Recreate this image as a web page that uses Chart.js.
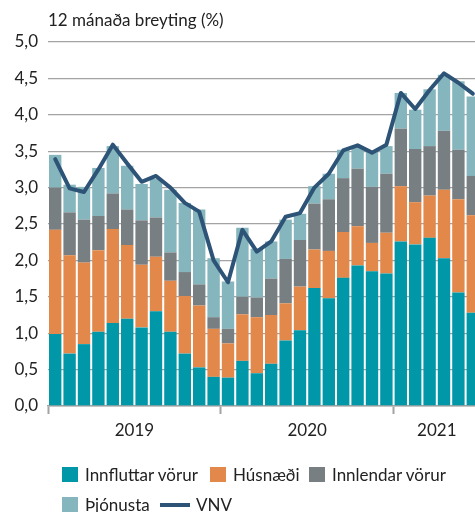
<!DOCTYPE html>
<html><head><meta charset="utf-8">
<script src="https://cdn.jsdelivr.net/npm/chart.js@4"></script>
<style>
html,body{margin:0;padding:0;overflow:hidden;background:#fff;width:475px;height:512px}
#wrap{position:relative;width:486px;height:512px}
#c{position:absolute;left:0;top:0}
.ttl{position:absolute;left:48px;top:10px;font:17px Lato;line-height:20px;color:#222;white-space:nowrap}
.lg{position:absolute;font:17px Lato;color:#222;white-space:nowrap;display:flex;align-items:center;height:15px}
.lg .bx{display:inline-block;width:16px;height:15px;margin-right:7px}
.lg .ln{display:inline-block;width:30px;height:4px;margin-right:6px}
</style></head>
<body><div id="wrap"><canvas id="c" width="486" height="512"></canvas>
<div class="ttl" id="ttl"></div><div id="legend"></div></div>
<script>
const yAxisTitle = '12 mánaða breyting (%)';
const years = ['2019','2019','2019','2019','2019','2019','2019','2019','2019','2019','2019','2019',
               '2020','2020','2020','2020','2020','2020','2020','2020','2020','2020','2020','2020',
               '2021','2021','2021','2021','2021','2021'];
const monthNames = ['jan','feb','mar','apr','maí','jún','júl','ágú','sep','okt','nóv','des',
                    'jan','feb','mar','apr','maí','jún','júl','ágú','sep','okt','nóv','des',
                    'jan','feb','mar','apr','maí','jún'];
const categories = monthNames.map((m, i) => m + ' ' + years[i]);

const innfluttar = [0.99,0.72,0.85,1.02,1.14,1.20,1.08,1.30,1.02,0.72,0.53,0.40,
                    0.39,0.62,0.45,0.58,0.90,1.04,1.62,1.48,1.76,1.93,1.85,1.82,
                    2.26,2.22,2.31,2.03,1.56,1.28];
const husnaedi   = [1.43,1.35,1.12,1.12,1.29,1.01,0.86,0.75,0.70,0.79,0.85,0.66,
                    0.47,0.64,0.77,0.67,0.51,0.60,0.53,0.65,0.63,0.54,0.39,0.56,
                    0.76,0.58,0.58,0.94,1.28,1.34];
const innlendar  = [0.58,0.59,0.59,0.47,0.49,0.49,0.61,0.54,0.39,0.33,0.29,0.16,
                    0.20,0.24,0.27,0.50,0.61,0.64,0.63,0.71,0.74,0.79,0.77,0.81,
                    0.79,0.73,0.68,0.81,0.68,0.54];
const thjonusta  = [0.45,0.38,0.45,0.66,0.65,0.60,0.50,0.53,0.86,0.95,1.03,0.81,
                    0.65,0.95,0.67,0.51,0.54,0.36,0.24,0.35,0.39,0.30,0.49,0.38,
                    0.49,0.54,0.78,0.77,0.94,1.09];
const vnv        = [3.39,2.99,2.94,3.25,3.59,3.33,3.08,3.16,3.00,2.79,2.67,2.00,
                    1.70,2.42,2.12,2.26,2.60,2.65,3.00,3.19,3.51,3.58,3.48,3.59,
                    4.30,4.08,4.34,4.57,4.44,4.29];
const seriesNames = ['Innfluttar vörur','Húsnæði','Innlendar vörur','Þjónusta','VNV'];
const seriesColors = ['#0097A9','#E2884A','#787F82','#85B5BD','#2D5377'];

// year label centres and boundaries derived from categories
const yearList = [...new Set(years)];
const yearCenters = yearList.map(y => (years.indexOf(y) + years.lastIndexOf(y)) / 2);
const yearBounds = yearList.map(y => years.indexOf(y) - 0.5).concat([years.length - 0.5]);

const FONT = 'Lato';
const TXT = '#222';
const GRID = '#a3a3a3';

document.getElementById('ttl').textContent = yAxisTitle;

const barData = [innfluttar, husnaedi, innlendar, thjonusta];
const datasets = barData.map((d, i) => ({
  type: 'bar', label: seriesNames[i], data: d, backgroundColor: seriesColors[i],
  stack: 'a', order: 1, categoryPercentage: 1, barPercentage: 0.86, borderWidth: 0
}));
datasets.push({
  type: 'line', label: seriesNames[4], data: vnv, borderColor: seriesColors[4],
  backgroundColor: seriesColors[4], borderWidth: 4, pointRadius: 0, tension: 0,
  stack: 'vnv', order: 0, borderJoinStyle: 'round', borderCapStyle: 'round'
});

new Chart(document.getElementById('c'), {
  data: { labels: categories, datasets },
  options: {
    responsive: false, animation: false, devicePixelRatio: 1,
    layout: { padding: { top: 42, bottom: 70, left: 0, right: 0 } },
    plugins: { legend: { display: false }, tooltip: { enabled: false }, title: { display: false } },
    scales: {
      x: { type: 'category', stacked: true, display: false, offset: true },
      x2: {
        type: 'linear', position: 'bottom', min: -0.5, max: years.length - 0.5,
        afterBuildTicks: s => { s.ticks = yearBounds.concat(yearCenters).sort((a,b)=>a-b).map(v => ({ value: v })); },
        afterFit: s => { s.height = 36; },
        ticks: {
          autoSkip: false, maxRotation: 0, padding: 6, color: TXT, font: { family: FONT, size: 17 },
          callback: v => { const k = yearCenters.indexOf(v); return k >= 0 ? yearList[k] : ''; }
        },
        grid: {
          drawOnChartArea: false, drawTicks: true, tickLength: 8, tickWidth: 2,
          tickColor: c => (c.tick && yearBounds.includes(c.tick.value)) ? GRID : 'rgba(0,0,0,0)'
        },
        border: { display: true, color: GRID, width: 1.5 }
      },
      y: {
        stacked: true, min: 0, max: 5,
        afterFit: s => { s.width = 48; },
        ticks: { stepSize: 0.5, padding: 10, color: TXT, font: { family: FONT, size: 17 },
                 callback: v => v.toFixed(1).replace('.', ',') },
        grid: { color: GRID, lineWidth: 1.3, drawTicks: false, tickLength: 0 },
        border: { display: false }
      }
    }
  }
});

// HTML legend built from the series
const legendPos = [[62,467],[210,467],[309,467],[62,497],[160,497]];
const lg = document.getElementById('legend');
seriesNames.forEach((name, i) => {
  const d = document.createElement('div');
  d.className = 'lg';
  d.style.left = legendPos[i][0] + 'px';
  d.style.top = legendPos[i][1] + 'px';
  const m = document.createElement('span');
  m.className = i === 4 ? 'ln' : 'bx';
  m.style.background = seriesColors[i];
  const t = document.createElement('span');
  t.textContent = name;
  d.appendChild(m); d.appendChild(t);
  lg.appendChild(d);
});
</script>
</body></html>
